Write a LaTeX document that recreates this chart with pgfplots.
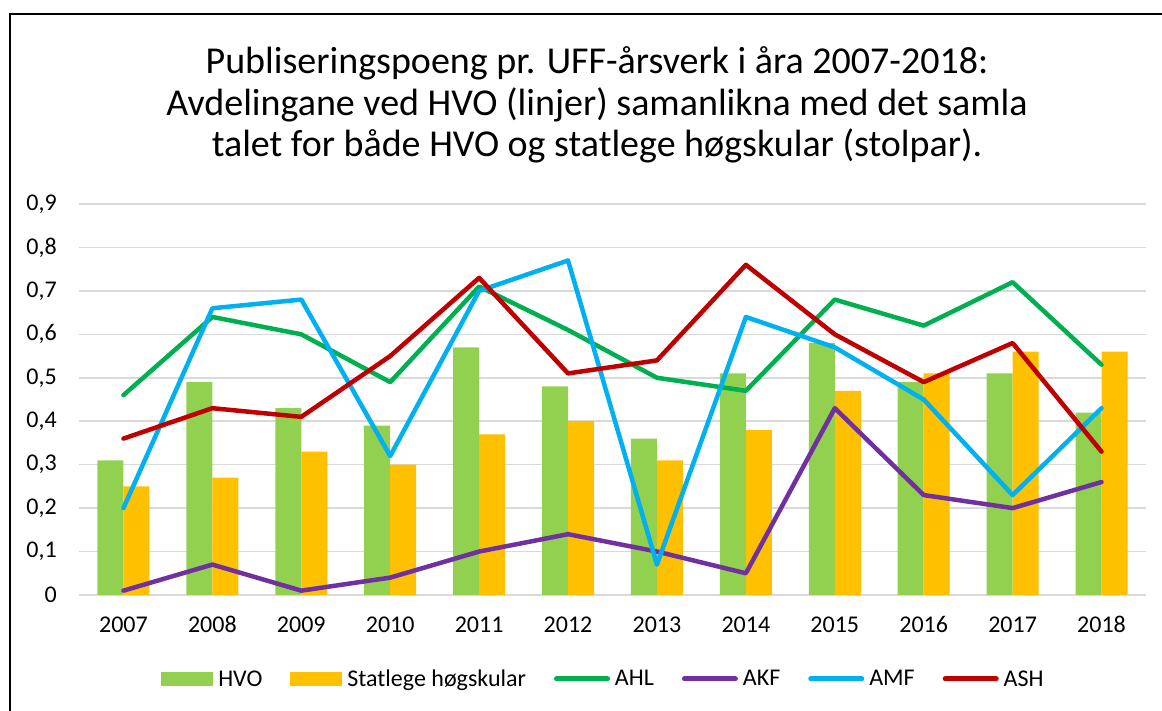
\documentclass[border=0pt]{standalone}
\usepackage{pgfplots}
\pgfplotsset{compat=1.18}
\usepackage{fontspec}
\setmainfont{Carlito}
\definecolor{hvogreen}{RGB}{146,208,80}
\definecolor{storange}{RGB}{255,192,0}
\definecolor{ahl}{RGB}{0,176,80}
\definecolor{akf}{RGB}{112,48,160}
\definecolor{amf}{RGB}{0,176,240}
\definecolor{ash}{RGB}{192,0,0}
\definecolor{gridgray}{RGB}{217,217,217}
\begin{document}
\begin{tikzpicture}
\useasboundingbox (0pt,0pt) rectangle (1162pt,711pt);
\draw[line width=2pt, black] (10pt,0pt) -- (10pt,697pt) -- (1162pt,697pt);
\node[align=center, font=\fontsize{38}{41.5}\selectfont, inner sep=0pt] at (597pt,606pt)
 {Publiseringspoeng pr. UFF-årsverk i åra 2007-2018:\\Avdelingane ved HVO (linjer) samanlikna med det samla\\talet for både HVO og statlege høgskular (stolpar).};
\begin{axis}[
  at={(79pt,116pt)}, anchor=south west,
  scale only axis, width=1067pt, height=391pt,
  xmin=-0.5, xmax=11.5, ymin=0, ymax=0.9,
  axis line style={draw=none},
  major tick length=0pt,
  xtick={0,1,2,3,4,5,6,7,8,9,10,11},
  xticklabels={2007,2008,2009,2010,2011,2012,2013,2014,2015,2016,2017,2018},
  ytick={0,0.1,0.2,0.3,0.4,0.5,0.6,0.7,0.8,0.9},
  yticklabels={0,{0,1},{0,2},{0,3},{0,4},{0,5},{0,6},{0,7},{0,8},{0,9}},
  ymajorgrids, xmajorgrids=false,
  grid style={gridgray, line width=1.5pt},
  tick label style={font=\fontsize{24}{28}\selectfont, inner sep=0pt},
  yticklabel style={anchor=east, xshift=-22pt, yshift=0pt},
  xticklabel style={anchor=base, yshift=-38pt},
  clip=false,
  legend columns=6,
  legend style={at={(axis description cs:0.0769,-0.2148)}, anchor=west, draw=none, fill=none, inner sep=0pt,
    font=\fontsize{24}{28}\selectfont,
    nodes={inner sep=0pt},
    /tikz/every odd column/.append style={column sep=5pt},
    /tikz/every even column/.append style={column sep=28pt}},
]
\addplot[ybar, bar width=26pt, bar shift=-13pt, fill=hvogreen, draw=none,
  legend image code/.code={\fill[hvogreen] (0pt,-7pt) rectangle (52pt,7pt);}]
  coordinates {(0,0.31) (1,0.49) (2,0.43) (3,0.39) (4,0.57) (5,0.48) (6,0.36) (7,0.51) (8,0.58) (9,0.49) (10,0.51) (11,0.42)};
\addlegendentry{HVO}
\addplot[ybar, bar width=26pt, bar shift=13pt, fill=storange, draw=none,
  legend image code/.code={\fill[storange] (0pt,-7pt) rectangle (52pt,7pt);}]
  coordinates {(0,0.25) (1,0.27) (2,0.33) (3,0.30) (4,0.37) (5,0.40) (6,0.31) (7,0.38) (8,0.47) (9,0.51) (10,0.56) (11,0.56)};
\addlegendentry{Statlege høgskular}
\pgfplotsset{every axis plot post/.append style={line width=4.5pt, line join=round, line cap=round}}
\addplot[ahl, sharp plot, mark=none,
  legend image code/.code={\draw[ahl, line width=5pt, line cap=round] (2.5pt,0pt) -- (53.5pt,0pt);}]
  coordinates {(0,0.46) (1,0.64) (2,0.60) (3,0.49) (4,0.71) (5,0.61) (6,0.50) (7,0.47) (8,0.68) (9,0.62) (10,0.72) (11,0.53)};
\addlegendentry{AHL}
\addplot[akf, sharp plot, mark=none,
  legend image code/.code={\draw[akf, line width=5pt, line cap=round] (2.5pt,0pt) -- (53.5pt,0pt);}]
  coordinates {(0,0.01) (1,0.07) (2,0.01) (3,0.04) (4,0.10) (5,0.14) (6,0.10) (7,0.05) (8,0.43) (9,0.23) (10,0.20) (11,0.26)};
\addlegendentry{AKF}
\addplot[amf, sharp plot, mark=none,
  legend image code/.code={\draw[amf, line width=5pt, line cap=round] (2.5pt,0pt) -- (53.5pt,0pt);}]
  coordinates {(0,0.20) (1,0.66) (2,0.68) (3,0.32) (4,0.70) (5,0.77) (6,0.07) (7,0.64) (8,0.57) (9,0.45) (10,0.23) (11,0.43)};
\addlegendentry{AMF}
\addplot[ash, sharp plot, mark=none,
  legend image code/.code={\draw[ash, line width=5pt, line cap=round] (2.5pt,0pt) -- (53.5pt,0pt);}]
  coordinates {(0,0.36) (1,0.43) (2,0.41) (3,0.55) (4,0.73) (5,0.51) (6,0.54) (7,0.76) (8,0.60) (9,0.49) (10,0.58) (11,0.33)};
\addlegendentry{ASH}
\end{axis}
\end{tikzpicture}
\end{document}
